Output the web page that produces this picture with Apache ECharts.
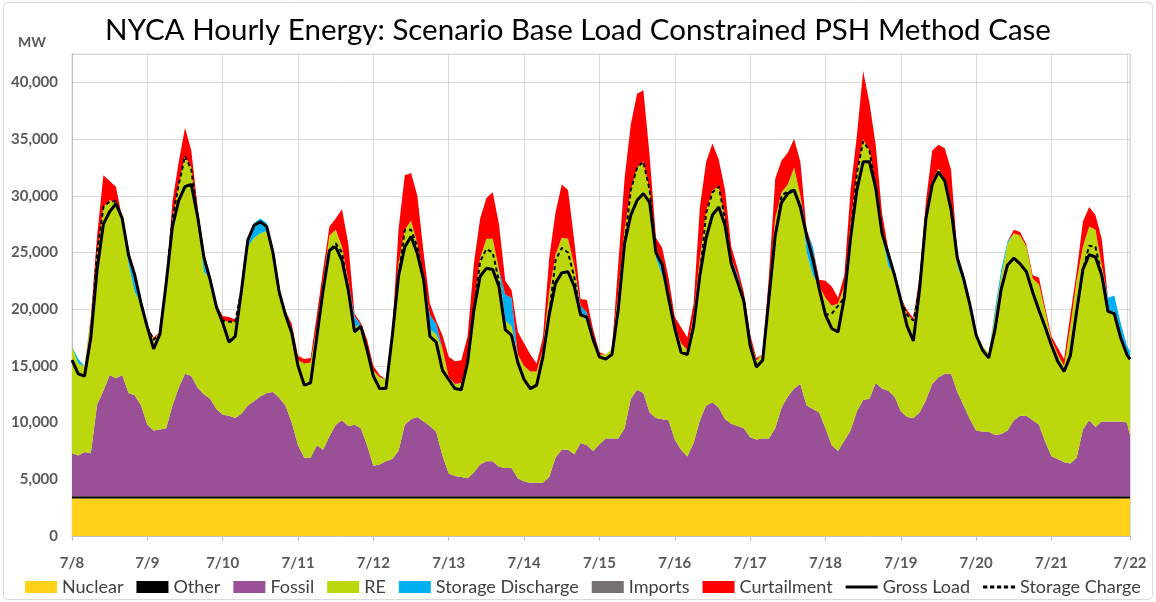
<!DOCTYPE html>
<html>
<head>
<meta charset="utf-8">
<script src="https://cdn.jsdelivr.net/npm/echarts@6/dist/echarts.min.js"></script>
<style>
  html, body { margin: 0; padding: 0; background: #fff; }
  #chart { width: 1156px; height: 602px; }
</style>
</head>
<body>
<div id="chart"></div>
<script>
// Day tick labels along the time axis (one per midnight)
const dayLabels = ['7/8','7/9','7/10','7/11','7/12','7/13','7/14','7/15','7/16','7/17','7/18','7/19','7/20','7/21','7/22'];

// Sample times in hours from 7/8 00:00 (every two hours, plus the final hour)
const sampleHours = [];
for (let h = 0; h <= 336; h += 2) sampleHours.push(h);
sampleHours.push(337);

// Flat resources, MW
const nuclearMW = 3300;
const otherMW = 200;
const importsMW = 0;

// Fossil output, MW
const fossil = [
  3800,3600,3900,3800,8100,9300,10700,10400,10700,9100,8900,8000,
  6300,5800,5900,6000,8000,9600,10800,10600,9600,9000,8600,7700,
  7200,7100,6900,7300,8000,8400,8800,9100,9200,8700,8000,6500,
  4500,3400,3400,4500,4100,5300,6300,6700,6200,6300,6000,4500,
  2700,2800,3100,3300,4000,6300,6800,7000,6600,6200,5700,3600,
  2000,1800,1700,1600,2100,2800,3100,3100,2600,2500,2500,1600,
  1300,1200,1200,1200,1700,3400,4100,4100,3700,4700,4500,4000,
  4600,5100,5100,5100,6000,8600,9400,9100,7400,6900,6800,6700,
  5000,4100,3500,4700,6700,8000,8300,7800,6800,6400,6200,6000,
  5200,5000,5100,5100,6000,7800,8800,9500,9900,8000,7700,7400,
  6000,4500,4000,4900,5800,7500,8500,8600,10000,9500,9300,8800,
  7500,7000,6900,7400,8500,9900,10500,10800,10800,9200,8000,6800,
  5800,5700,5700,5400,5500,5800,6700,7100,7100,6700,6300,4800,
  3500,3300,3000,2900,3400,5900,6700,6100,6600,6600,6600,6600,
  6500,5400
];

// Renewable output, MW
const renewables = [
  9400,8100,7600,11700,13400,16200,15400,15500,13300,11400,9100,9000,
  8700,8000,8600,13000,16500,17900,19200,18400,15200,10800,10600,9200,
  8300,8300,8500,10700,14000,14400,14400,14300,12300,9600,8400,8300,
  7500,8300,8400,10500,14900,17700,17200,15300,12800,8700,9100,8800,
  8400,7700,7200,11200,16500,17200,17500,15300,12700,8500,8600,9400,
  8500,8100,8300,10500,14900,18200,19600,19600,17400,13000,12500,10900,
  10200,9800,9800,11800,16300,17900,18700,18600,16600,11500,10900,10100,
  7900,7400,7900,12900,17500,18400,19600,20400,19600,14100,12700,11100,
  10000,9400,9400,11300,14300,17200,18700,19500,17700,13600,12600,11500,
  8500,7000,7400,13400,18500,19000,18700,19500,16600,13500,11800,11100,
  11500,12300,13000,13600,18200,21000,23000,21900,17500,13500,11000,10700,
  10000,9100,8600,11400,16300,17900,18400,17200,14700,11100,10800,10300,
  8700,7600,6900,10600,14000,16500,16500,15900,14900,12500,12400,11500,
  10300,9200,8500,12100,15600,16100,17100,17400,13700,9700,9700,7600,
  6300,6900
];

// Storage discharge, MW
const storageDischarge = [
  0,400,0,0,0,0,0,0,500,800,1500,0,
  0,0,0,0,0,0,0,0,0,1300,0,0,
  0,0,0,400,800,1300,1300,700,0,0,0,0,
  0,0,0,0,0,0,0,0,0,900,0,0,
  0,0,0,0,0,0,0,0,0,1300,900,0,
  0,0,0,0,0,0,0,0,0,2300,2500,0,
  0,0,0,0,0,0,0,0,0,600,800,0,
  0,0,0,0,0,0,0,0,0,800,1200,0,
  0,0,0,0,0,0,0,0,0,1000,700,0,
  0,0,0,0,0,0,0,0,0,1800,2500,0,
  0,0,0,0,0,0,0,0,0,500,1300,0,
  0,0,0,0,0,0,0,0,0,1000,700,0,
  0,0,0,500,500,200,0,0,0,0,0,0,
  0,0,0,0,0,0,0,0,0,1200,1400,1100,
  500,500
];

// Curtailed energy, MW
const curtailment = [
  0,0,0,300,1500,2800,1700,1400,0,0,0,0,
  0,200,0,0,1500,2000,2500,1500,700,0,0,0,
  400,400,200,0,0,0,0,0,0,0,0,400,
  400,400,400,1000,1000,800,1000,3300,3300,200,200,500,
  400,200,0,0,3000,4800,4200,4200,2200,1000,300,1200,
  1800,2000,2000,2000,3500,3500,3600,4100,4000,1200,700,2000,
  2000,1500,700,1000,3000,3700,4700,4300,2200,600,1100,600,
  200,0,0,2500,4500,5800,6500,6300,3000,1000,1200,1500,
  800,1400,1100,1000,4500,4300,4100,2400,2500,1000,600,500,
  600,200,0,1000,3500,2800,2800,2500,3000,200,0,600,
  1500,1700,500,1000,3000,3300,6000,4200,3500,1500,200,0,
  0,300,200,700,1200,2700,2100,2700,3300,200,0,200,
  0,0,0,0,0,0,300,300,200,300,600,300,
  300,600,600,1000,800,2200,1700,1300,2400,0,0,0,
  0,0
];

// Gross load, MW
const grossLoad = [
  15500,14300,14100,17500,23500,27500,28600,29300,28000,24800,23000,20500,
  18400,16500,17800,22300,27300,29600,30800,31000,28200,24600,22600,20200,
  18800,17100,17600,21700,26100,27400,27700,27300,25000,21500,19500,17900,
  15000,13300,13500,17600,21700,25200,25500,24300,21700,18000,18500,16400,
  14100,13000,13000,17600,22900,25500,26400,24900,22600,17600,17100,14600,
  13800,13000,12900,15300,19900,22900,23600,23500,22000,18200,17700,15300,
  13800,13000,13300,15800,19500,22300,23200,23300,22000,19500,19300,17300,
  15800,15600,16000,20000,25800,28300,29600,30200,29400,25000,23900,21000,
  18300,16200,16000,18500,23000,26300,28300,29000,27400,24000,22400,20700,
  16800,14900,15500,21000,26500,29400,30200,30500,29000,26500,24400,21800,
  19500,18300,18000,21000,26300,30500,33000,33000,30700,26700,24900,23000,
  20800,18500,17200,21800,28000,31000,32100,31300,28800,24500,22700,20400,
  17700,16400,15700,18200,21800,23900,24500,24000,23300,21500,19900,18400,
  16800,15400,14500,15900,19800,23500,24800,24600,23000,19800,19600,17500,
  16000,15600
];

// Load plus storage charging, MW
const storageCharge = [
  15500,14300,14100,17500,25000,29000,29500,29500,28000,24800,23000,20500,
  18400,17300,17800,22300,28000,31000,33500,32300,28300,24600,22600,20200,
  19000,18900,18900,21700,26100,27400,27700,27300,25000,21500,19500,17900,
  15000,13300,13500,17600,21700,25200,25800,25000,21700,18000,18500,16400,
  14100,13000,13000,17600,22900,27000,27000,25500,22600,17600,17100,14600,
  13800,13000,12900,15300,19900,24200,25300,25000,22500,18200,17700,15300,
  13800,13000,13300,15800,19500,24300,25400,25000,22800,19500,19300,17300,
  15800,15600,16000,20000,25800,30500,32500,33000,30500,25000,23900,21000,
  18300,16200,16000,18500,23000,28500,30300,30800,28000,24000,22400,20700,
  16800,14900,15500,21000,26500,30000,30400,30500,29000,26500,24400,21800,
  19500,19600,20300,21000,26300,32000,34800,34000,30700,26700,24900,23000,
  20800,19500,19000,21800,28000,31000,32100,31300,28800,24500,22700,20400,
  17700,16400,15700,18200,21800,23900,24500,24000,23300,21500,19900,18400,
  16800,15400,14500,15900,19800,23500,25600,25500,23000,19800,19600,17500,
  16000,15600
];

const HOUR = 3600 * 1000;
const DAY = 24 * HOUR;
const start = Date.UTC(2030, 6, 8);
const timeOf = h => start + h * HOUR;

const pairs = vals => sampleHours.map((h, i) => [timeOf(h), vals[i]]);
const flat = v => sampleHours.map(h => [timeOf(h), v]);

function stackedArea(name, color, data) {
  return {
    name, type: 'line', stack: 'supply', data,
    symbol: 'none', showSymbol: false, smooth: false,
    lineStyle: { width: 0, color },
    itemStyle: { color },
    areaStyle: { color, opacity: 1 },
    emphasis: { disabled: true },
    silent: true, z: 2
  };
}

function thousands(v) {
  return String(v).replace(/\B(?=(\d{3})+(?!\d))/g, ',');
}

const font = 'Lato, "Open Sans", sans-serif';
const lineIcon = 'path://M0,0H30V3H0Z';
const dashIcon = 'path://M0,0H4V3H0Z M6.5,0H10.5V3H6.5Z M13,0H17V3H13Z M19.5,0H23.5V3H19.5Z M26,0H30V3H26Z';

const chart = echarts.init(document.getElementById('chart'), null, { renderer: 'canvas' });

chart.setOption({
  animation: false,
  useUTC: true,
  backgroundColor: '#fff',
  title: {
    text: 'NYCA Hourly Energy: Scenario Base Load Constrained PSH Method Case',
    left: 'center', top: 10,
    textStyle: { fontFamily: font, fontSize: 29.5, fontWeight: 'normal', color: '#000' }
  },
  graphic: [
    { type: 'rect', shape: { x: 3.5, y: 2.5, width: 1149, height: 597, r: 4 },
      style: { fill: 'none', stroke: '#d9d9d9', lineWidth: 1 }, silent: true },
    { type: 'text', left: 18, top: 35,
      style: { text: 'MW', fontFamily: font, fontSize: 14, fontWeight: 'bold', fill: '#595959' } }
  ],
  grid: {
    left: 72, right: 26, top: 54, bottom: 66,
    show: true, borderColor: '#d9d9d9', borderWidth: 1
  },
  legend: {
    left: 20, top: 573,
    itemWidth: 32, itemHeight: 12, itemGap: 13,
    selectedMode: false,
    textStyle: { fontFamily: font, fontSize: 18, color: '#404040' },
    data: [
      { name: 'Nuclear', icon: 'rect' },
      { name: 'Other', icon: 'rect' },
      { name: 'Fossil', icon: 'rect' },
      { name: 'RE', icon: 'rect' },
      { name: 'Storage Discharge', icon: 'rect' },
      { name: 'Imports', icon: 'rect' },
      { name: 'Curtailment', icon: 'rect' },
      { name: 'Gross Load', icon: lineIcon },
      { name: 'Storage Charge', icon: dashIcon }
    ]
  },
  xAxis: {
    type: 'time', min: timeOf(0), max: timeOf(337),
    minInterval: DAY, maxInterval: DAY,
    axisLine: { show: true, lineStyle: { color: '#bfbfbf', width: 1 } },
    axisTick: { show: true, length: 5, lineStyle: { color: '#bfbfbf' } },
    splitLine: { show: true, lineStyle: { color: '#d9d9d9', width: 1 } },
    axisLabel: {
      margin: 20, fontFamily: font, fontSize: 15, fontWeight: 'bold', color: '#595959',
      showMinLabel: true, showMaxLabel: true, hideOverlap: false,
      formatter: v => {
        const day = Math.round((v - start) / DAY);
        return dayLabels[day] || '';
      }
    }
  },
  yAxis: {
    type: 'value', min: 0, max: 42500, interval: 5000,
    axisLine: { show: true, lineStyle: { color: '#bfbfbf' } },
    axisTick: { show: false },
    splitLine: { show: true, lineStyle: { color: '#d9d9d9', width: 1 } },
    axisLabel: {
      margin: 14, fontFamily: font, fontSize: 15, fontWeight: 'bold', color: '#595959',
      formatter: v => (v % 5000 === 0 ? thousands(v) : '')
    }
  },
  series: [
    stackedArea('Nuclear', '#ffd11a', flat(nuclearMW)),
    stackedArea('Other', '#000000', flat(otherMW)),
    stackedArea('Fossil', '#9a5096', pairs(fossil)),
    stackedArea('RE', '#bcd70b', pairs(renewables)),
    stackedArea('Storage Discharge', '#00b0f0', pairs(storageDischarge)),
    stackedArea('Imports', '#767171', flat(importsMW)),
    stackedArea('Curtailment', '#ff0000', pairs(curtailment)),
    {
      name: 'Storage Charge', type: 'line', data: pairs(storageCharge),
      symbol: 'none', showSymbol: false,
      lineStyle: { color: '#000', width: 2, type: [4, 3] },
      itemStyle: { color: '#000' },
      emphasis: { disabled: true }, silent: true, z: 3
    },
    {
      name: 'Gross Load', type: 'line', data: pairs(grossLoad),
      symbol: 'none', showSymbol: false,
      lineStyle: { color: '#000', width: 3 },
      itemStyle: { color: '#000' },
      emphasis: { disabled: true }, silent: true, z: 4
    }
  ]
});
</script>
</body>
</html>
